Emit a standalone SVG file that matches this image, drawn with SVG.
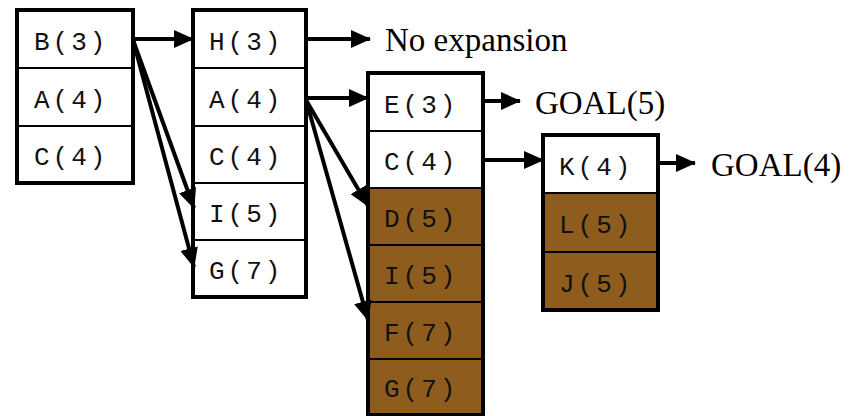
<svg xmlns="http://www.w3.org/2000/svg" width="855" height="416" viewBox="0 0 855 416">
  <style>
    .cell { fill: #ffffff; stroke: #000; stroke-width: 2; }
    .open { fill: #8e5d1e; stroke: #000; stroke-width: 2; }
    .frame { fill: none; stroke: #000; stroke-width: 4; }
    .lbl { font-family: "Liberation Mono", "Courier New", monospace; font-size: 26px; letter-spacing: 3px; fill: #111; }
    .note { font-family: "Liberation Serif", "Times New Roman", serif; font-size: 33px; fill: #000; }
    .edge { stroke: #000; stroke-width: 4; fill: none; marker-end: url(#head); }
  </style>
  <defs>
    <marker id="head" markerUnits="userSpaceOnUse" markerWidth="20" markerHeight="18" refX="19" refY="9" orient="auto">
      <path d="M0,0 L20,9 L0,18 z" fill="#000"/>
    </marker>
  </defs>
  <rect width="855" height="416" fill="#fff"/>

  <!-- queue 1 -->
  <g id="queue1">
    <rect class="cell" x="17" y="10" width="116" height="58"/>
    <rect class="cell" x="17" y="68" width="116" height="58"/>
    <rect class="cell" x="17" y="126" width="116" height="57"/>
    <rect class="frame" x="17" y="10" width="116" height="173"/>
    <text class="lbl" x="34" y="50">B(3)</text>
    <text class="lbl" x="34" y="108">A(4)</text>
    <text class="lbl" x="34" y="165">C(4)</text>
  </g>

  <!-- queue 2 -->
  <g id="queue2">
    <rect class="cell" x="193" y="10" width="113" height="58"/>
    <rect class="cell" x="193" y="68" width="113" height="58"/>
    <rect class="cell" x="193" y="126" width="113" height="57"/>
    <rect class="cell" x="193" y="183" width="113" height="57"/>
    <rect class="cell" x="193" y="240" width="113" height="57"/>
    <rect class="frame" x="193" y="10" width="113" height="287"/>
    <text class="lbl" x="209" y="50">H(3)</text>
    <text class="lbl" x="209" y="108">A(4)</text>
    <text class="lbl" x="209" y="165">C(4)</text>
    <text class="lbl" x="209" y="222">I(5)</text>
    <text class="lbl" x="209" y="279">G(7)</text>
  </g>

  <!-- queue 3 -->
  <g id="queue3">
    <rect class="cell" x="368" y="73" width="115" height="58"/>
    <rect class="cell" x="368" y="131" width="115" height="57"/>
    <rect class="open" x="368" y="188" width="115" height="57"/>
    <rect class="open" x="368" y="245" width="115" height="57"/>
    <rect class="open" x="368" y="302" width="115" height="57"/>
    <rect class="open" x="368" y="359" width="115" height="56"/>
    <rect class="frame" x="368" y="73" width="115" height="342"/>
    <text class="lbl" x="384" y="113">E(3)</text>
    <text class="lbl" x="384" y="170">C(4)</text>
    <text class="lbl" x="384" y="227">D(5)</text>
    <text class="lbl" x="384" y="284">I(5)</text>
    <text class="lbl" x="384" y="341">F(7)</text>
    <text class="lbl" x="384" y="397">G(7)</text>
  </g>

  <!-- queue 4 -->
  <g id="queue4">
    <rect class="cell" x="543" y="135" width="115" height="58"/>
    <rect class="open" x="543" y="193" width="115" height="59"/>
    <rect class="open" x="543" y="252" width="115" height="58"/>
    <rect class="frame" x="543" y="135" width="115" height="175"/>
    <text class="lbl" x="559" y="175">K(4)</text>
    <text class="lbl" x="559" y="233">L(5)</text>
    <text class="lbl" x="559" y="292">J(5)</text>
  </g>

  <!-- outcome labels -->
  <g id="no-expansion"><text class="note" x="385" y="51">No expansion</text></g>
  <g id="goal5"><text class="note" x="535" y="114">GOAL(5)</text></g>
  <g id="goal4"><text class="note" x="711" y="176">GOAL(4)</text></g>

  <!-- connectors -->
  <g id="connectors">
    <line class="edge" x1="133" y1="39" x2="193" y2="39"/>
    <line class="edge" x1="133" y1="40" x2="194" y2="208"/>
    <line class="edge" x1="133" y1="40" x2="194" y2="267"/>
    <line class="edge" x1="306" y1="39" x2="370" y2="39"/>
    <line class="edge" x1="306" y1="98" x2="368" y2="98"/>
    <line class="edge" x1="306" y1="100" x2="368" y2="206"/>
    <line class="edge" x1="306" y1="100" x2="368" y2="320"/>
    <line class="edge" x1="483" y1="101" x2="520" y2="101"/>
    <line class="edge" x1="483" y1="160" x2="543" y2="160"/>
    <line class="edge" x1="658" y1="163" x2="695" y2="163"/>
  </g>
</svg>
